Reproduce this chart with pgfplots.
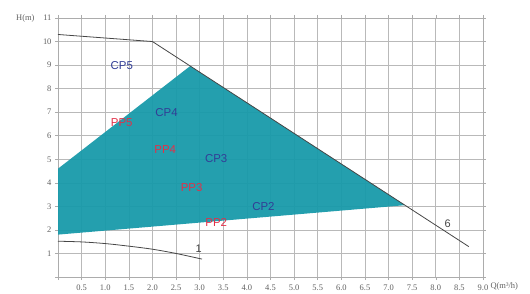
\documentclass[border=0pt]{standalone}
\usepackage{pgfplots}
\pgfplotsset{compat=1.18}
\usepackage{fontspec}
\setmainfont{Liberation Serif}
\newfontfamily\lab{Liberation Sans}
\definecolor{tealf}{RGB}{24,154,170}
\definecolor{cpblue}{RGB}{50,62,150}
\definecolor{ppred}{RGB}{226,48,72}
\definecolor{curve}{RGB}{70,70,70}
\begin{document}
\begin{tikzpicture}
\path[use as bounding box] (-58bp,-17bp) rectangle (472bp,277bp);
\begin{axis}[
  at={(0,0)}, anchor=south west,
  scale only axis, width=425bp, height=259bp,
  xmin=0, xmax=9, ymin=0, ymax=11,
  xtick={0,0.5,...,9},
  xticklabels={,0.5,1.0,1.5,2.0,2.5,3.0,3.5,4.0,4.5,5.0,5.5,6.0,6.5,7.0,7.5,8.0,8.5,9.0},
  ytick={0,1,...,11},
  yticklabels={,1,2,3,4,5,6,7,8,9,10,11},
  grid=major,
  major grid style={draw=gray!55, line width=0.6pt},
  axis line style={draw=gray!65, line width=0.6pt},
  tick style={draw=gray!65, line width=0.5pt},
  tick align=outside, major tick length=3bp,
  ticklabel style={font=\fontsize{8.5}{9}\selectfont, text=gray!75!black},
  xticklabel style={yshift=-1bp},
  clip=false,
]
\addplot[fill=tealf, draw=none, fill opacity=0.95] coordinates {(0,1.8) (7.35,3.05) (2.8,8.96) (0,4.6)} -- cycle;
\addplot[draw=curve, line width=0.8pt] coordinates {(0,10.3) (2.0,10.0) (8.7,1.29)};
\addplot[draw=curve, line width=0.8pt, smooth] coordinates {(0,1.52) (0.5,1.49) (1.0,1.42) (1.5,1.31) (2.0,1.18) (2.5,1.0) (3.05,0.76)};
\node[font=\lab\fontsize{11.5}{12}\selectfont, text=cpblue] at (axis cs:1.35,9.0) {CP5};
\node[font=\lab\fontsize{11.5}{12}\selectfont, text=cpblue] at (axis cs:2.3,7.0) {CP4};
\node[font=\lab\fontsize{11.5}{12}\selectfont, text=cpblue] at (axis cs:3.35,5.05) {CP3};
\node[font=\lab\fontsize{11.5}{12}\selectfont, text=cpblue] at (axis cs:4.35,3.0) {CP2};
\node[font=\lab\fontsize{11.5}{12}\selectfont, text=ppred] at (axis cs:1.35,6.55) {PP5};
\node[font=\lab\fontsize{11.5}{12}\selectfont, text=ppred] at (axis cs:2.27,5.4) {PP4};
\node[font=\lab\fontsize{11.5}{12}\selectfont, text=ppred] at (axis cs:2.83,3.8) {PP3};
\node[font=\lab\fontsize{11.5}{12}\selectfont, text=ppred] at (axis cs:3.35,2.3) {PP2};
\node[font=\lab\fontsize{11}{12}\selectfont, text=curve] at (axis cs:2.98,1.22) {1};
\node[font=\lab\fontsize{11}{12}\selectfont, text=curve] at (axis cs:8.25,2.25) {6};
\node[font=\fontsize{8.5}{9}\selectfont, text=gray!75!black, anchor=east] at (axis cs:0,11) [xshift=-20bp] {H(m)};
\node[font=\fontsize{8.5}{9}\selectfont, text=gray!75!black, anchor=west] at (axis cs:9,0) [yshift=-9bp, xshift=4bp] {Q(m³/h)};
\end{axis}
\end{tikzpicture}
\end{document}
